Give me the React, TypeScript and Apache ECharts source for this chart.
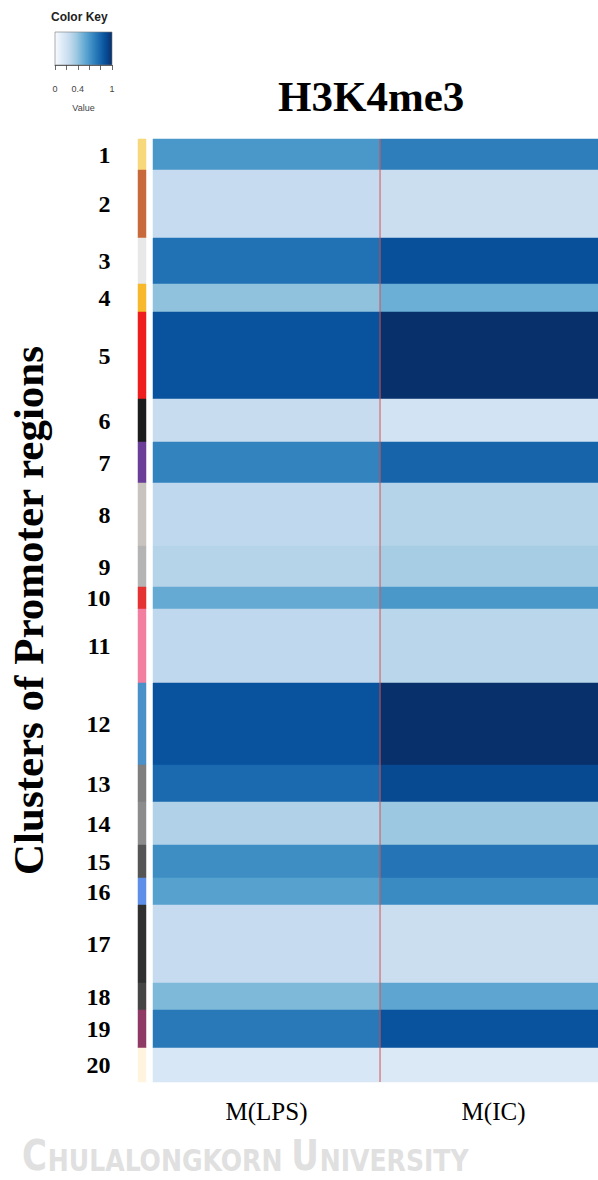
import React, { useEffect, useRef } from "react";
import * as echarts from "echarts";

// ---------- data ----------
const clusterNames = ["1","2","3","4","5","6","7","8","9","10","11","12","13","14","15","16","17","18","19","20"];
// relative number of promoter rows in each cluster
const clusterSizes = [31, 68, 46, 28, 87, 43, 41, 63, 41, 22, 74, 82, 37, 43, 33, 27, 78, 27, 38, 34];
const lpsValues = [0.6, 0.25, 0.75, 0.41, 0.87, 0.24, 0.68, 0.27, 0.3, 0.52, 0.27, 0.87, 0.78, 0.32, 0.64, 0.56, 0.25, 0.45, 0.72, 0.16];
const icValues = [0.7, 0.23, 0.88, 0.5, 1.0, 0.19, 0.8, 0.3, 0.35, 0.6, 0.29, 1.0, 0.9, 0.38, 0.74, 0.65, 0.23, 0.54, 0.87, 0.14];
const sidebarColors = ["#f7d87a", "#c8693b", "#e8e8e8", "#f7b82c", "#ee1c1c", "#1c1c1c", "#6b3f98", "#c9c3bf", "#b4b4b4", "#e53232", "#f27fa0", "#4a90c9", "#7f7f7f", "#8c8c8c", "#555555", "#5d8fe8", "#303030", "#454545", "#8e3a64", "#fff4dd"];
const conditions = ["M(LPS)", "M(IC)"];
const keyTickLabels = [0, 0.4, 1];

const BLUES = ["#f7fbff", "#deebf7", "#c6dbef", "#9ecae1", "#6baed6", "#4292c6", "#2171b5", "#08519c", "#08306b"];

export default function App() {
  const ref = useRef<HTMLDivElement>(null);
  useEffect(() => {
    const chart = echarts.init(ref.current!, null, { renderer: "svg" });

    const total = clusterSizes.reduce((a, b) => a + b, 0);
    const starts: number[] = [];
    let acc = 0;
    clusterSizes.forEach((s) => { starts.push(acc); acc += s; });

    const heatData: any[] = [];
    clusterSizes.forEach((s, i) => {
      heatData.push([0, starts[i], starts[i] + s, lpsValues[i]]);
      heatData.push([1, starts[i], starts[i] + s, icValues[i]]);
    });
    const sideData = clusterSizes.map((s, i) => [starts[i], starts[i] + s, i]);
    const labelData = clusterSizes.map((s, i) => [0, starts[i] + s / 2, clusterNames[i]]);

    const serif = "'Liberation Serif', 'Times New Roman', serif";
    const sans = "'Liberation Sans', Arial, sans-serif";
    const narrow = "'Liberation Sans Narrow', 'DejaVu Sans Condensed', sans-serif";

    const option: any = {
      animation: false,
      backgroundColor: "#ffffff",
      title: [
        {
          text: "H3K4me3",
          left: 278,
          top: 75,
          padding: 0,
          textStyle: { fontFamily: serif, fontWeight: "bold", fontSize: 43, color: "#000" },
        },
        {
          text: "Color Key",
          left: 51,
          top: 11,
          padding: 0,
          textStyle: { fontFamily: sans, fontWeight: "bold", fontSize: 12, color: "#222" },
        },
      ],
      grid: [
        { left: 153, top: 139, width: 445, height: 943 },
        { left: 138, top: 139, width: 8, height: 943 },
        {
          left: 55, top: 32, width: 57, height: 33, show: true,
          borderColor: "#777", borderWidth: 0.6,
          backgroundColor: new echarts.graphic.LinearGradient(0, 0, 1, 0,
            BLUES.map((c, i) => ({ offset: i / (BLUES.length - 1), color: c }))),
        },
      ],
      xAxis: [
        {
          gridIndex: 0, type: "value", min: 0, max: 1.96, interval: 0.5,
          axisLine: { show: false }, axisTick: { show: false }, splitLine: { show: false },
          axisLabel: {
            margin: 17, fontFamily: serif, fontSize: 25, color: "#000",
            showMinLabel: true, showMaxLabel: false,
            formatter: (v: number) => {
              const k = Math.floor(v);
              return Math.abs(v - k - 0.5) < 1e-6 && conditions[k] ? conditions[k] : "";
            },
          },
        },
        { gridIndex: 1, type: "value", min: 0, max: 1, show: false },
        {
          gridIndex: 2, type: "value", min: 0, max: 1, interval: 0.2, position: "bottom", offset: 2,
          axisLine: { show: true, lineStyle: { color: "#444", width: 0.8 } },
          axisTick: { show: true, length: 5, lineStyle: { color: "#444", width: 0.8 } },
          splitLine: { show: false },
          axisLabel: {
            margin: 17, fontFamily: sans, fontSize: 9, color: "#444",
            formatter: (v: number) => (keyTickLabels.some((t) => Math.abs(t - v) < 1e-6) ? String(v) : ""),
          },
          name: "Value", nameLocation: "middle", nameGap: 36,
          nameTextStyle: { fontFamily: sans, fontSize: 9, color: "#444" },
        },
      ],
      yAxis: [
        { gridIndex: 0, type: "value", min: 0, max: total, inverse: true, show: false },
        {
          gridIndex: 1, type: "value", min: 0, max: total, inverse: true,
          axisLine: { show: false }, axisTick: { show: false }, axisLabel: { show: false }, splitLine: { show: false },
          name: "Clusters of Promoter regions", nameLocation: "middle", nameRotate: 90, nameGap: 88,
          nameTextStyle: { fontFamily: serif, fontWeight: "bold", fontSize: 43, color: "#000" },
        },
        { gridIndex: 2, type: "value", min: 0, max: 1, show: false },
      ],
      visualMap: {
        type: "continuous", show: false, min: 0, max: 1, dimension: 3, seriesIndex: 0,
        inRange: { color: BLUES },
      },
      series: [
        {
          type: "custom",
          xAxisIndex: 0, yAxisIndex: 0,
          encode: { x: 0, y: [1, 2] },
          data: heatData,
          silent: true,
          renderItem: (params: any, api: any) => {
            const col = api.value(0);
            const p0 = api.coord([col, api.value(1)]);
            const p1 = api.coord([col + 1, api.value(2)]);
            const cs = params.coordSys;
            const shape = echarts.graphic.clipRectByRect(
              { x: p0[0], y: p0[1], width: p1[0] - p0[0], height: p1[1] - p0[1] },
              { x: cs.x, y: cs.y, width: cs.width, height: cs.height }
            );
            if (!shape) return null;
            const c = api.visual("color");
            return { type: "rect", shape, style: { fill: c, stroke: c, lineWidth: 0.5 } };
          },
        },
        {
          type: "custom",
          xAxisIndex: 1, yAxisIndex: 1,
          encode: { y: [0, 1] },
          data: sideData,
          silent: true,
          renderItem: (params: any, api: any) => {
            const p0 = api.coord([0, api.value(0)]);
            const p1 = api.coord([1, api.value(1)]);
            const c = sidebarColors[api.value(2)];
            return { type: "rect", shape: { x: p0[0], y: p0[1], width: p1[0] - p0[0], height: p1[1] - p0[1] }, style: { fill: c, stroke: c, lineWidth: 0.5 } };
          },
        },
        {
          type: "scatter",
          xAxisIndex: 1, yAxisIndex: 1,
          symbolSize: 1,
          itemStyle: { opacity: 0 },
          silent: true,
          data: labelData,
          label: {
            show: true, position: "left", distance: 27, opacity: 1,
            fontFamily: serif, fontWeight: "bold", fontSize: 24, color: "#000",
            formatter: (p: any) => p.data[2],
          },
        },
        {
          type: "line",
          xAxisIndex: 0, yAxisIndex: 0,
          symbol: "none", silent: true,
          data: [[1, 0], [1, total]],
          lineStyle: { color: "#d9534f", width: 1 },
        },
      ],
      graphic: [
        {
          type: "text",
          x: 22,
          y: 1134,
          scaleX: 0.9,
          silent: true,
          style: {
            text: "{a|C}{b|HULALONGKORN }{a|U}{b|NIVERSITY}",
            fill: "#e0e0e0",
            rich: {
              a: { fontFamily: narrow, fontWeight: "bold", fontSize: 42, fill: "#e0e0e0", verticalAlign: "bottom", lineHeight: 42 },
              b: { fontFamily: narrow, fontWeight: "bold", fontSize: 31, fill: "#e0e0e0", verticalAlign: "bottom", lineHeight: 42, padding: [0, 0, 0, 1] },
            },
          },
        },
      ],
    };

    chart.setOption(option);
    return () => chart.dispose();
  }, []);

  return <div ref={ref} style={{ position: "absolute", left: 0, top: 0, width: 598, height: 1180, background: "#fff" }} />;
}
